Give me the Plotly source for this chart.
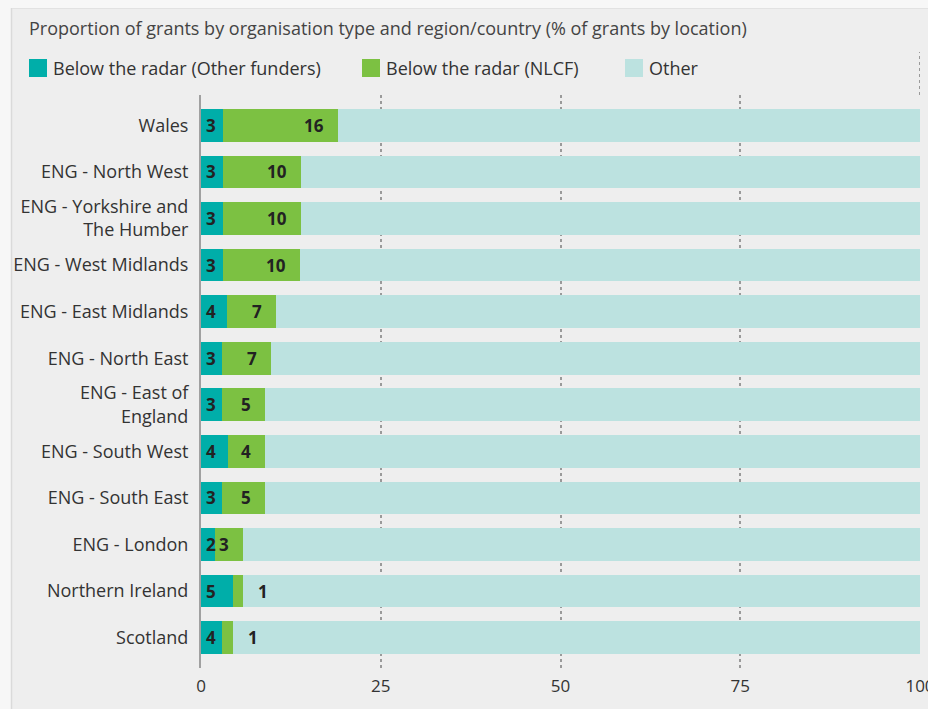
import plotly.graph_objects as go

categories = [
    "Wales",
    "ENG - North West",
    "ENG - Yorkshire and<br>The Humber",
    "ENG - West Midlands",
    "ENG - East Midlands",
    "ENG - North East",
    "ENG - East of<br>England",
    "ENG - South West",
    "ENG - South East",
    "ENG - London",
    "Northern Ireland",
    "Scotland",
]
other_funders = [3.0, 3.0, 3.0, 3.0, 3.6, 2.9, 2.9, 3.7, 2.9, 2.0, 4.5, 2.9]
nlcf = [16.1, 10.9, 10.9, 10.8, 6.8, 6.8, 6.0, 5.2, 6.0, 3.9, 1.4, 1.5]
other = [round(100 - a - b, 1) for a, b in zip(other_funders, nlcf)]
other_funders_labels = ["3", "3", "3", "3", "4", "3", "3", "4", "3", "2", "5", "4"]
nlcf_labels = ["16", "10", "10", "10", "7", "7", "5", "4", "5", "3", "1", "1"]
x_ticks = [0, 25, 50, 75, 100]

TEAL = "#00AEA9"
GREEN = "#7CC142"
LIGHT = "#BCE2E0"
BG = "#EEEEEE"
FONT = "Open Sans"

W, H = 928, 709
ML, MR, MT, MB = 201, 8, 95, 41
PW = W - ML - MR
PH = H - MT - MB


def px_x(p):
    return (p - ML) / PW


def px_y(p):
    return (H - MB - p) / PH


fig = go.Figure()
for name, vals, col in [
    ("Below the radar (Other funders)", other_funders, TEAL),
    ("Below the radar (NLCF)", nlcf, GREEN),
    ("Other", other, LIGHT),
]:
    fig.add_trace(go.Bar(
        y=categories, x=vals, name=name, orientation="h",
        marker=dict(color=col, line=dict(width=0)),
        showlegend=False, hoverinfo="x+name",
    ))

annotations = []
label_font = dict(family=FONT, size=17, color="#222222")
for cat, a, b, la, lb in zip(categories, other_funders, nlcf, other_funders_labels, nlcf_labels):
    annotations.append(dict(x=0, y=cat, xref="x", yref="y", text="<b>%s</b>" % la,
                            showarrow=False, xanchor="left", xshift=3, font=label_font))
    shift = -12 if b >= 2 else 27
    annotations.append(dict(x=a + b, y=cat, xref="x", yref="y", text="<b>%s</b>" % lb,
                            showarrow=False, xanchor="right", xshift=shift, font=label_font))

# title
annotations.append(dict(x=px_x(27), y=px_y(28), xref="paper", yref="paper",
                        text="Proportion of grants by organisation type and region/country (% of grants by location)",
                        showarrow=False, xanchor="left", yanchor="middle",
                        font=dict(family=FONT, size=18, color="#444444")))

shapes = []
# page strips
shapes.append(dict(type="rect", xref="paper", yref="paper", x0=px_x(0), x1=px_x(W), y0=px_y(8), y1=px_y(0),
                   fillcolor="#F7F7F7", line=dict(width=0), layer="below"))
shapes.append(dict(type="rect", xref="paper", yref="paper", x0=px_x(0), x1=px_x(12), y0=px_y(H), y1=px_y(0),
                   fillcolor="#F7F7F7", line=dict(width=0), layer="below"))
shapes.append(dict(type="line", xref="paper", yref="paper", x0=px_x(11.5), x1=px_x(11.5), y0=px_y(H), y1=px_y(8),
                   line=dict(color="#DADADA", width=1.5), layer="below"))
shapes.append(dict(type="line", xref="paper", yref="paper", x0=px_x(12), x1=px_x(W), y0=px_y(8.5), y1=px_y(8.5),
                   line=dict(color="#E2E2E2", width=1), layer="below"))
# extension of 100 gridline upward
shapes.append(dict(type="line", xref="x", yref="paper", x0=100, x1=100, y0=1, y1=px_y(52),
                   line=dict(color="#9A9A9A", width=2, dash="dot"), layer="below"))

# legend
legend_items = [
    (29, "Below the radar (Other funders)", TEAL),
    (362, "Below the radar (NLCF)", GREEN),
    (625, "Other", LIGHT),
]
for x0, txt, col in legend_items:
    shapes.append(dict(type="rect", xref="paper", yref="paper", x0=px_x(x0), x1=px_x(x0 + 18),
                       y0=px_y(77), y1=px_y(59), fillcolor=col, line=dict(width=0)))
    annotations.append(dict(x=px_x(x0 + 22), y=px_y(68), xref="paper", yref="paper", text=txt,
                            showarrow=False, xanchor="left", yanchor="middle",
                            font=dict(family=FONT, size=18, color="#333333")))

fig.update_layout(
    width=W, height=H,
    margin=dict(l=ML, r=MR, t=MT, b=MB, autoexpand=False),
    barmode="stack", bargap=0.3,
    paper_bgcolor=BG, plot_bgcolor=BG,
    font=dict(family=FONT, size=18, color="#333333"),
    annotations=annotations, shapes=shapes,
    xaxis=dict(range=[0, 100], tickvals=x_ticks, ticktext=[str(v) for v in x_ticks],
               showgrid=True, gridcolor="#9A9A9A", gridwidth=2, griddash="dot",
               zeroline=False, showline=False, ticks="", ticklabelstandoff=6,
               ticklabeloverflow="allow", automargin=False,
               tickfont=dict(size=17, color="#333333"), fixedrange=True),
    yaxis=dict(categoryorder="array", categoryarray=categories,
               range=[len(categories) - 1 + 0.65, -0.65],
               showline=True, linecolor="#A0A0A0", linewidth=2, showgrid=False,
               ticks="", ticklabelstandoff=7, automargin=False,
               tickfont=dict(size=18, color="#333333"),
               fixedrange=True),
)

fig.write_html("out.html", config={"displayModeBar": False},
               post_script="document.body.style.margin='0px';")
